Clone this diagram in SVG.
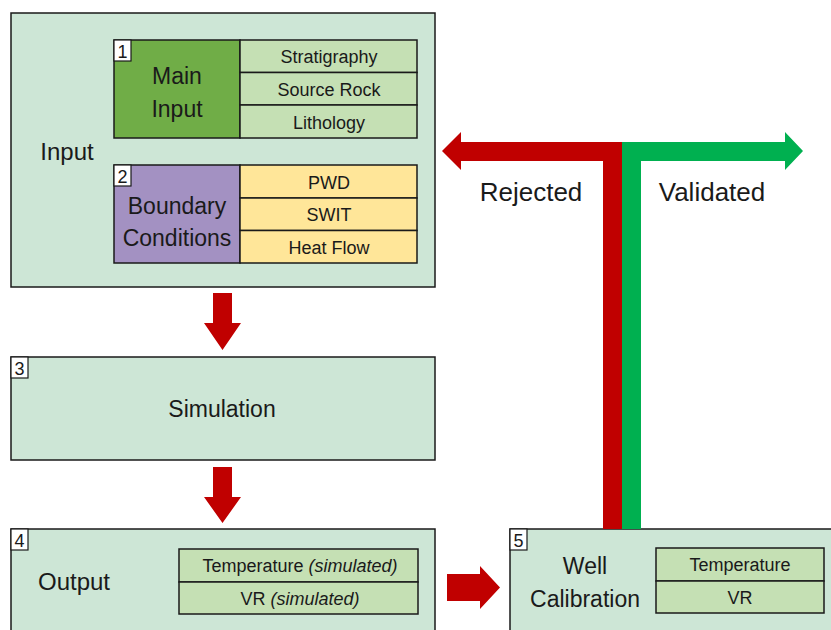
<svg xmlns="http://www.w3.org/2000/svg" width="831" height="630" viewBox="0 0 831 630">
<style>
text{font-family:"Liberation Sans",Arial,sans-serif;fill:#1a1a1a;text-anchor:middle}
.box{fill:#CDE6D6;stroke:#1a1a1a;stroke-width:1.5}
.cell{stroke:#1a1a1a;stroke-width:1.5}
.lg{fill:#C5E0B4}
.yl{fill:#FFE699}
.num{fill:#fff;stroke:#1a1a1a;stroke-width:1.2}
.n{font-size:18px}
.big{font-size:23px}
.sm{font-size:18px}
.lbl{font-size:26px}
.red{fill:#C00000}
.grn{fill:#00B050}
</style>
<g id="input">
<rect class="box" x="11" y="13" width="424" height="274"/>
<text x="67" y="160" style="font-size:24px">Input</text>
</g>
<g id="main-input">
<rect class="cell" x="114" y="40" width="126" height="98" fill="#70AD47"/>
<rect class="cell lg" x="240" y="40" width="177" height="32.5"/>
<rect class="cell lg" x="240" y="72.5" width="177" height="32.5"/>
<rect class="cell lg" x="240" y="105" width="177" height="33"/>
<rect class="num" x="114" y="40" width="17" height="21"/>
<text class="n" x="122.5" y="57.5">1</text>
<text class="big" x="177" y="84">Main</text>
<text class="big" x="177" y="117">Input</text>
<text class="sm" x="329" y="62.5">Stratigraphy</text>
<text class="sm" x="329" y="95.5">Source Rock</text>
<text class="sm" x="329" y="128.5">Lithology</text>
</g>
<g id="boundary">
<rect class="cell" x="114" y="165" width="126" height="98" fill="#A391C2"/>
<rect class="cell yl" x="240" y="165" width="177" height="33"/>
<rect class="cell yl" x="240" y="198" width="177" height="32.5"/>
<rect class="cell yl" x="240" y="230.5" width="177" height="32.5"/>
<rect class="num" x="114" y="165" width="17" height="21"/>
<text class="n" x="122.5" y="182.5">2</text>
<text class="big" x="177" y="214">Boundary</text>
<text class="big" x="177" y="246">Conditions</text>
<text class="sm" x="329" y="188.5">PWD</text>
<text class="sm" x="329" y="220.5">SWIT</text>
<text class="sm" x="329" y="253.5">Heat Flow</text>
</g>
<g id="simulation">
<rect class="box" x="11" y="357" width="424" height="103"/>
<rect class="num" x="11" y="357" width="17" height="21"/>
<text class="n" x="19.5" y="374.5">3</text>
<text class="big" x="222" y="417">Simulation</text>
</g>
<g id="output">
<rect class="box" x="11" y="529" width="424" height="110"/>
<rect class="num" x="11" y="529" width="17" height="21"/>
<text class="n" x="19.5" y="546.5">4</text>
<text x="74" y="590" style="font-size:24px">Output</text>
<rect class="cell lg" x="179" y="549" width="239" height="33"/>
<rect class="cell lg" x="179" y="582" width="239" height="32"/>
<text class="sm" x="300" y="572">Temperature <tspan font-style="italic">(simulated)</tspan></text>
<text class="sm" x="300" y="604.5">VR <tspan font-style="italic">(simulated)</tspan></text>
</g>
<g id="well-calibration">
<rect class="box" x="510" y="529" width="330" height="110"/>
<rect class="num" x="510" y="529" width="17" height="21"/>
<text class="n" x="518.5" y="546.5">5</text>
<text class="big" x="585" y="574">Well</text>
<text class="big" x="585" y="607">Calibration</text>
<rect class="cell lg" x="656" y="548" width="168" height="33"/>
<rect class="cell lg" x="656" y="581" width="168" height="32"/>
<text class="sm" x="740" y="571">Temperature</text>
<text class="sm" x="740" y="603.5">VR</text>
</g>
<g id="connectors">
<polygon class="red" points="213,293 232,293 232,323 241,323 222.5,350 204,323 213,323"/>
<polygon class="red" points="213,467 232,467 232,497 241,497 222.5,523 204,497 213,497"/>
<polygon class="red" points="447,574 480,574 480,566 500,587.5 480,609 480,601 447,601"/>
<polygon class="red" points="442,151 461,132 461,142 622,142 622,529 603,529 603,161 461,161 461,170"/>
<polygon class="grn" points="622,142 785,142 785,132 803,151 785,170 785,161 641,161 641,529 622,529"/>
</g>
<g id="labels">
<text class="lbl" x="531" y="201">Rejected</text>
<text class="lbl" x="712" y="201">Validated</text>
</g>
</svg>
